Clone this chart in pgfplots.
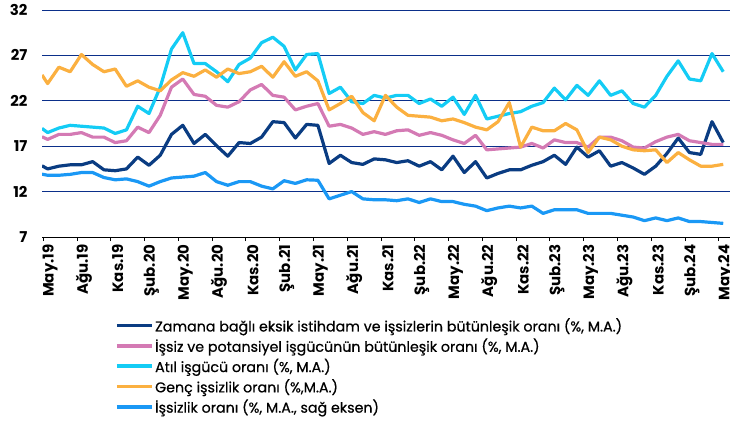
\documentclass[border=0pt]{standalone}
\usepackage{fontspec}
\setmainfont{Poppins}
\newfontfamily\legfont{Poppins}[FakeBold=0.6]
\usepackage{pgfplots}
\pgfplotsset{compat=1.18}
\usepackage{pgfplotstable}
\definecolor{cdark}{HTML}{0A3C82}
\definecolor{cpink}{HTML}{D47AB4}
\definecolor{ccyan}{HTML}{14CCF5}
\definecolor{corange}{HTML}{FBB040}
\definecolor{clight}{HTML}{1A98F5}
\definecolor{gridblue}{HTML}{0B2F8A}
\pgfplotstableread{
k dark pink cyan orange light
-0.5 14.84 18.04 18.96 24.85 13.92
0 14.5 17.75 18.5 23.9 13.8
1 14.8 18.3 19.0 25.7 13.8
2 14.95 18.3 19.3 25.2 13.9
3 14.95 18.5 19.2 27.1 14.1
4 15.3 18.0 19.1 26.0 14.1
5 14.4 18.0 19.0 25.2 13.55
6 14.3 17.4 18.4 25.5 13.3
7 14.5 17.6 18.8 23.6 13.4
8 15.8 19.1 21.4 24.2 13.1
9 14.9 18.5 20.6 23.5 12.6
10 16.0 20.4 23.5 23.1 13.1
11 18.3 23.5 27.7 24.3 13.5
12 19.3 24.4 29.5 25.1 13.6
13 17.3 22.7 26.1 24.7 13.7
14 18.3 22.5 26.1 25.4 14.1
15 17.05 21.5 25.2 24.6 13.1
16 15.9 21.3 24.1 25.5 12.7
17 17.4 21.9 26.0 25.0 13.1
18 17.3 23.2 26.7 25.2 13.1
19 18.0 23.8 28.4 25.8 12.6
20 19.7 22.6 29.0 24.6 12.3
21 19.6 22.4 28.0 26.3 13.2
22 17.9 21.0 25.4 24.7 12.9
23 19.4 21.4 27.1 25.2 13.3
24 19.3 21.7 27.2 24.2 13.25
25 15.1 19.2 22.8 21.0 11.2
26 16.0 19.4 23.5 21.7 11.6
27 15.2 19.0 21.9 22.5 12.0
28 15.0 18.3 21.7 20.7 11.2
29 15.6 18.6 22.6 19.8 11.1
30 15.5 18.3 22.3 22.6 11.1
31 15.2 18.7 22.6 21.3 11.0
32 15.4 18.8 22.6 20.4 11.2
33 14.8 18.2 21.7 20.3 10.8
34 15.3 18.5 22.2 20.2 11.2
35 14.4 18.2 21.4 19.8 10.9
36 15.9 17.7 22.4 20.0 10.9
37 14.1 17.3 20.5 19.6 10.6
38 15.3 18.2 22.6 19.1 10.4
39 13.5 16.6 20.0 18.8 9.9
40 14.0 16.7 20.3 19.7 10.2
41 14.4 16.8 20.6 21.8 10.4
42 14.4 16.9 20.8 16.9 10.2
43 14.9 17.3 21.4 19.1 10.4
44 15.3 16.8 21.8 18.7 9.6
45 16.0 17.7 23.4 18.7 10.0
46 15.0 17.4 22.1 19.5 10.0
47 16.9 17.4 23.7 18.8 10.0
48 15.8 16.9 22.6 16.3 9.6
49 16.5 18.0 24.2 18.0 9.6
50 14.8 18.0 22.6 17.7 9.6
51 15.2 17.6 23.1 17.0 9.4
52 14.6 16.9 21.7 16.6 9.2
53 13.9 16.8 21.3 16.5 8.8
54 14.8 17.5 22.6 16.6 9.1
55 16.2 18.0 24.7 15.2 8.8
56 17.9 18.3 26.4 16.3 9.1
57 16.3 17.6 24.4 15.5 8.7
58 16.1 17.4 24.2 14.8 8.7
59 19.7 17.2 27.2 14.8 8.6
60 17.4 17.2 25.2 15.0 8.5
}\datatable
\begin{document}
\begin{tikzpicture}
\path[use as bounding box] (-42bp,-186bp) rectangle (688bp,237bp);
\begin{axis}[
  at={(0pt,0pt)}, anchor=south west,
  scale only axis, width=688bp, height=227bp,
  xmin=-0.5, xmax=60.6, ymin=7, ymax=32,
  ytick={7,12,17,22,27,32},
  xtick={-0.4,2.6,5.6,8.6,11.6,14.6,17.6,20.6,23.6,26.6,29.6,32.6,35.6,38.6,41.6,44.6,47.6,50.6,53.6,56.6,59.6},
  xticklabels={May.19,Ağu.19,Kas.19,Şub.20,May.20,Ağu.20,Kas.20,Şub.21,May.21,Ağu.21,Kas.21,Şub.22,May.22,Ağu.22,Kas.22,Şub.23,May.23,Ağu.23,Kas.23,Şub.24,May.24},
  axis x line*=bottom, axis y line*=left,
  y axis line style={draw=none},
  x axis line style={black, line width=0.8bp, -},
  ytick style={draw=none},
  xtick style={black, line width=0.8bp},
  tick align=outside, major tick length=4bp,
  ymajorgrids, grid style={gridblue, line width=0.9bp},
  /pgf/number format/assume math mode=true,
  yticklabel style={font=\bfseries\fontsize{15}{15}\selectfont, xshift=-7bp},
  xticklabel style={font=\bfseries\fontsize{15}{15}\selectfont, xshift=7bp, rotate=90, anchor=east},
  legend cell align=left,
  legend style={draw=none, fill=none, at={(axis description cs:0.106,-0.35)}, anchor=north west, inner sep=0pt,
    font=\legfont\fontsize{14.3}{15}\selectfont, row sep=2.5bp, nodes={inner sep=1.5bp}},
  legend image code/.code={\draw[#1, line width=3.5bp] (0bp,0bp) -- (35bp,0bp);},
  every axis plot/.append style={line width=3.2bp, line join=round, no markers},
]
\addplot[cdark] table[x=k, y=dark] {\datatable};
\addlegendentry{Zamana bağlı eksik istihdam ve işsizlerin bütünleşik oranı (\%, M.A.)}
\addplot[cpink] table[x=k, y=pink] {\datatable};
\addlegendentry{İşsiz ve potansiyel işgücünün bütünleşik oranı (\%, M.A.)}
\addplot[ccyan] table[x=k, y=cyan] {\datatable};
\addlegendentry{Atıl işgücü oranı (\%, M.A.)}
\addplot[corange] table[x=k, y=orange] {\datatable};
\addlegendentry{Genç işsizlik oranı (\%,M.A.)}
\addplot[clight] table[x=k, y=light] {\datatable};
\addlegendentry{İşsizlik oranı (\%, M.A., sağ eksen)}
\end{axis}
\end{tikzpicture}
\end{document}
